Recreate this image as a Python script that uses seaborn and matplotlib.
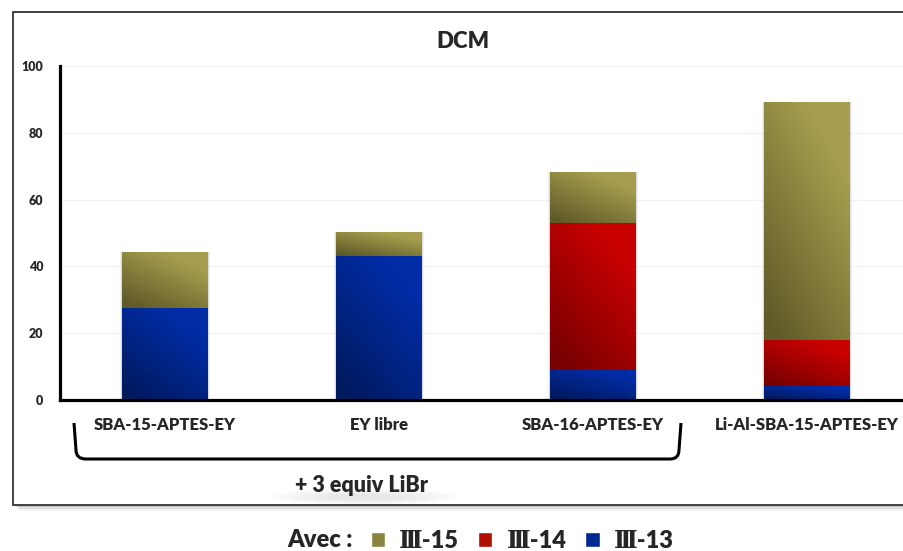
import numpy as np
import seaborn as sns
import matplotlib.pyplot as plt
import matplotlib.patches as mpatches
from matplotlib.path import Path
from matplotlib.colors import LinearSegmentedColormap

# data
categories = ['SBA-15-APTES-EY', 'EY libre', 'SBA-16-APTES-EY', 'Li-Al-SBA-15-APTES-EY']
iii_13 = [27.5, 43, 9, 4]
iii_14 = [0, 0, 44, 14]
iii_15 = [16.5, 7, 15, 71]
series_labels = ['Ⅲ-15', 'Ⅲ-14', 'Ⅲ-13']
yticks = [0, 20, 40, 60, 80, 100]

# gradient colours (dark, light) per series
olive = ('#5f5a28', '#a69e4e')
red = ('#760000', '#c80000')
blue = ('#001a5e', '#002ca6')

sns.set_style('white')
plt.rcParams['font.family'] = ['Lato', 'DejaVu Serif', 'DejaVu Sans']
plt.rcParams['font.weight'] = 'heavy'
WT = 'heavy'

W, H = 904, 551
fig = plt.figure(figsize=(W / 100, H / 100), dpi=100)


def fx(px):
    return px / W


def fy(py):
    return 1 - py / H


# outer frame with a soft shadow
for k, a in [(6, 0.05), (4, 0.08), (2, 0.12)]:
    fig.patches.append(mpatches.Rectangle((fx(13 + k), fy(505 + k)), fx(920) - fx(13), fy(12) - fy(505),
                                          transform=fig.transFigure, fc='black', ec='none', alpha=a, zorder=-3))
fig.patches.append(mpatches.Rectangle((fx(13), fy(505)), fx(920) - fx(13), fy(12) - fy(505),
                                      transform=fig.transFigure, fc='white', ec='#333333', lw=1.3, zorder=-2))

ax = fig.add_axes([fx(60), fy(400), fx(904) - fx(60), fy(66) - fy(400)])
ax.patch.set_alpha(0)

cum_red = [a + b for a, b in zip(iii_13, iii_14)]
total = [a + b for a, b in zip(cum_red, iii_15)]

layers = [(total, cum_red, olive), (cum_red, iii_13, red), (iii_13, [0] * 4, blue)]

xx, yy = np.meshgrid(np.linspace(0, 1, 60), np.linspace(0, 1, 120))
grad = np.clip(0.55 * xx + 0.8 * yy - 0.08, 0, 1)

for li, (top, bottom, cols) in enumerate(layers):
    n0 = len(ax.patches)
    sns.barplot(x=categories, y=top, color=cols[1], width=0.4, errorbar=None, ax=ax)
    cmap = LinearSegmentedColormap.from_list('g', list(cols))
    for i, p in enumerate(ax.patches[n0:]):
        p.set_visible(False)
        x0, w = p.get_x(), p.get_width()
        if li == 0:
            # soft shadow around the whole stack
            for d, a in [(0.009, 0.10), (0.005, 0.15)]:
                ax.add_patch(mpatches.Rectangle((x0 - d, 0), w + 2 * d, top[i] + 0.3,
                                                fc='#777777', ec='none', alpha=a, zorder=1.5))
        if top[i] - bottom[i] <= 0:
            continue
        ax.imshow(grad, extent=(x0, x0 + w, bottom[i], top[i]), origin='lower', cmap=cmap,
                  aspect='auto', vmin=0, vmax=1, interpolation='bilinear', zorder=2)

ax.set_xlim(-0.49, 3.453)
ax.set_ylim(0, 100)
ax.set_yticks(yticks)
ax.yaxis.grid(True, color='#f2f2f2', lw=0.8)
ax.set_axisbelow(True)
for s in ['top', 'right']:
    ax.spines[s].set_visible(False)
for s in ['left', 'bottom']:
    ax.spines[s].set_linewidth(2.3)
    ax.spines[s].set_color('black')
ax.tick_params(length=0)
ax.tick_params(axis='y', labelsize=9, pad=12)
ax.tick_params(axis='x', labelsize=12, pad=12)
for lab in ax.get_xticklabels() + ax.get_yticklabels():
    lab.set_fontweight(WT)
ax.set_xlabel('')
ax.set_ylabel('')

fig.text(fx(463), fy(42), 'DCM', ha='center', va='center', fontsize=16, weight=WT)

# brace under the first three groups
pts = [(74, 423), (76, 450), (76, 459), (86, 459), (670, 459), (679, 459), (679, 450), (681, 423)]
codes = [Path.MOVETO, Path.LINETO, Path.CURVE3, Path.CURVE3, Path.LINETO, Path.CURVE3, Path.CURVE3, Path.LINETO]
brace = Path([(fx(x), fy(y)) for x, y in pts], codes)
fig.patches.append(mpatches.PathPatch(brace, transform=fig.transFigure, fc='none', ec='black', lw=2.2))

# soft shadow under the LiBr note
for k in range(6):
    fig.patches.append(mpatches.Ellipse((fx(365), fy(497)), fx(190 - 22 * k), (16 - 2 * k) / H,
                                        transform=fig.transFigure, fc='#999999', ec='none', alpha=0.04))
fig.text(fx(362), fy(485), '+ 3 equiv LiBr', ha='center', va='center', fontsize=15.5, weight=WT)

fig.text(fx(287), fy(540), 'Avec :', ha='left', va='center', fontsize=17, weight=WT)
handles = [mpatches.Patch(fc='#8a8440'), mpatches.Patch(fc='#b01000'), mpatches.Patch(fc='#002a90')]
fig.legend(handles, series_labels, ncol=3, frameon=False, loc='center left',
           bbox_to_anchor=(fx(371), fy(541)), handlelength=0.6, handleheight=0.6,
           handletextpad=0.6, columnspacing=0.8, borderaxespad=0, borderpad=0,
           prop={'weight': WT, 'size': 17, 'family': ['Lato', 'DejaVu Serif', 'DejaVu Sans']})

fig.savefig('out.png', dpi=100)
